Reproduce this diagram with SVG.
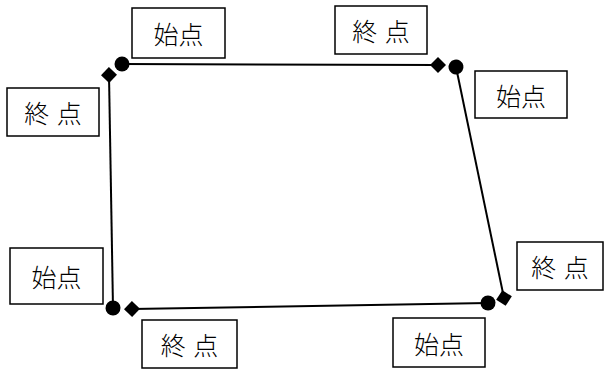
<svg xmlns="http://www.w3.org/2000/svg" width="604" height="369" viewBox="0 0 604 369">
<style>
.box{fill:#fff;stroke:#000;stroke-width:1.5}
.lbl{font-family:"Noto Sans CJK JP","Noto Sans CJK SC",sans-serif;font-size:25px;font-weight:300;fill:#000;text-anchor:middle;dominant-baseline:central}
.edge{stroke:#000;stroke-width:2;fill:none;marker-start:url(#dot);marker-end:url(#dia)}
</style>
<defs>
<marker id="dot" markerUnits="userSpaceOnUse" markerWidth="18" markerHeight="18" refX="9" refY="9" orient="auto">
<circle cx="9" cy="9" r="7.5" fill="#000"/>
</marker>
<marker id="dia" markerUnits="userSpaceOnUse" markerWidth="18" markerHeight="18" refX="9" refY="9" orient="auto">
<path d="M1,9 L9,1 L17,9 L9,17 Z" fill="#000"/>
</marker>
</defs>
<g id="connectors">
<line class="edge" x1="122" y1="64" x2="438" y2="65"/>
<line class="edge" x1="456" y1="67" x2="504" y2="298"/>
<line class="edge" x1="488" y1="303" x2="132" y2="309"/>
<line class="edge" x1="113" y1="308" x2="109" y2="75"/>
</g>
<g id="n1"><rect class="box" x="132" y="8" width="93" height="50"/><text class="lbl" x="178.5" y="33">始点</text></g>
<g id="n2"><rect class="box" x="335" y="6" width="92" height="48"/><text class="lbl" x="381" y="30" word-spacing="2">終 点</text></g>
<g id="n3"><rect class="box" x="7" y="88" width="92" height="48"/><text class="lbl" x="53" y="112" word-spacing="2">終 点</text></g>
<g id="n4"><rect class="box" x="475" y="71" width="92" height="47"/><text class="lbl" x="521" y="94.5">始点</text></g>
<g id="n5"><rect class="box" x="10" y="248" width="93" height="56"/><text class="lbl" x="56.5" y="276">始点</text></g>
<g id="n6"><rect class="box" x="142" y="320" width="95" height="48"/><text class="lbl" x="189.5" y="344" word-spacing="2">終 点</text></g>
<g id="n7"><rect class="box" x="393" y="318" width="92" height="49"/><text class="lbl" x="439" y="342.5">始点</text></g>
<g id="n8"><rect class="box" x="517" y="242" width="86" height="48"/><text class="lbl" x="560" y="266" word-spacing="2">終 点</text></g>
</svg>
